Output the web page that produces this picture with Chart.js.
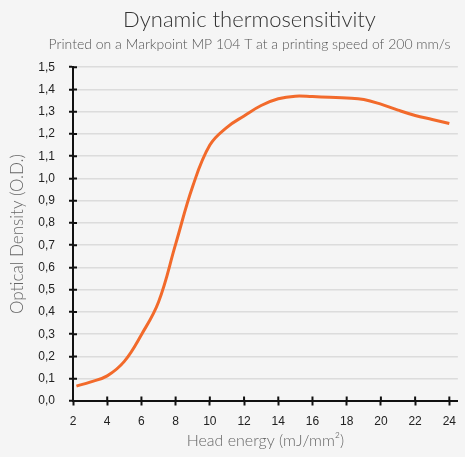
<!DOCTYPE html>
<html>
<head>
<meta charset="utf-8">
<script src="https://cdn.jsdelivr.net/npm/chart.js@4.4.1/dist/chart.umd.min.js"></script>
<style>
  html, body { margin: 0; padding: 0; background: #f5f5f5; }
  #wrap { width: 465px; height: 457px; }
</style>
</head>
<body>
<div id="wrap"><canvas id="thermo"></canvas></div>
<script>
// head energy (mJ/mm2) and optical density
const energy = [2.2, 3, 4, 5, 6, 7, 8, 9, 10, 11, 12, 13, 14, 15, 16, 17, 18, 19, 20, 21, 22, 23, 24];
const density = [0.067, 0.085, 0.113, 0.178, 0.298, 0.445, 0.705, 0.965, 1.15, 1.23, 1.281, 1.328, 1.358, 1.37, 1.368, 1.365, 1.362, 1.355, 1.334, 1.307, 1.283, 1.265, 1.247];
const xTicks = [2, 4, 6, 8, 10, 12, 14, 16, 18, 20, 22, 24];
const yTicks = [0, 0.1, 0.2, 0.3, 0.4, 0.5, 0.6, 0.7, 0.8, 0.9, 1.0, 1.1, 1.2, 1.3, 1.4, 1.5];

const thinFont = "Lato, 'Open Sans', sans-serif";

// draws the inner half of the axis ticks so they cross the axis line
const crossTicks = {
  id: 'crossTicks',
  afterDraw(chart) {
    const ctx = chart.ctx;
    const x = chart.scales.x, y = chart.scales.y;
    ctx.save();
    ctx.strokeStyle = '#111';
    ctx.lineWidth = 2;
    ctx.beginPath();
    y.ticks.forEach(t => {
      const py = y.getPixelForValue(t.value);
      ctx.moveTo(x.left, py);
      ctx.lineTo(x.left + 4, py);
    });
    x.ticks.forEach(t => {
      const px = x.getPixelForValue(t.value);
      ctx.moveTo(px, y.bottom);
      ctx.lineTo(px, y.bottom - 4.5);
    });
    ctx.stroke();
    ctx.restore();
  }
};

// title + subtitle sit a bit right of the canvas centre in the original
const shiftTitles = {
  id: 'shiftTitles',
  afterLayout(chart) {
    chart.boxes.forEach(b => {
      if (b.position === 'top' && b.options && b.options.text !== undefined) {
        b.left += 30;
      }
    });
  }
};

new Chart(document.getElementById('thermo'), {
  type: 'line',
  data: {
    datasets: [{
      data: energy.map((e, i) => ({ x: e, y: density[i] })),
      borderColor: '#f26a2b',
      borderWidth: 3,
      pointRadius: 0,
      tension: 0.4,
      fill: false
    }]
  },
  options: {
    responsive: true,
    maintainAspectRatio: false,
    animation: false,
    layout: { padding: { left: 4, right: 0, top: 0, bottom: 8 } },
    plugins: {
      legend: { display: false },
      tooltip: { enabled: false },
      title: {
        display: true,
        text: 'Dynamic thermosensitivity',
        color: '#333',
        font: { family: thinFont, size: 22, weight: '300' },
        padding: { top: 7, bottom: 3 }
      },
      subtitle: {
        display: true,
        text: 'Printed on a Markpoint MP 104 T at a printing speed of 200 mm/s',
        color: '#555',
        font: { family: thinFont, size: 14, weight: '300' },
        padding: { bottom: 14 }
      }
    },
    scales: {
      x: {
        type: 'linear',
        min: 2,
        max: 24.5,
        afterBuildTicks: s => { s.ticks = xTicks.map(v => ({ value: v })); },
        afterFit: s => { s.height = 48; },
        border: { color: '#111', width: 2 },
        grid: { drawOnChartArea: false, tickLength: 4.5, tickColor: '#111', tickWidth: 2 },
        ticks: {
          color: '#222',
          font: { family: "'Liberation Sans', Arial, sans-serif", size: 12 },
          padding: 9,
          maxRotation: 0
        },
        title: {
          display: true,
          text: 'Head energy (mJ/mm²)',
          color: '#666',
          font: { family: thinFont, size: 16, weight: '300', lineHeight: 1 },
          padding: { top: 0, bottom: 0 }
        }
      },
      y: {
        min: 0,
        max: 1.5,
        afterBuildTicks: s => { s.ticks = yTicks.map(v => ({ value: v })); },
        afterFit: s => { s.width = 69; },
        border: { color: '#111', width: 2 },
        grid: { color: '#dcdcdc', lineWidth: 1.5, tickLength: 4, tickColor: '#111', tickWidth: 2 },
        ticks: {
          color: '#222',
          font: { family: "'Liberation Sans', Arial, sans-serif", size: 12 },
          padding: 14,
          callback: v => v.toFixed(1).replace('.', ',')
        },
        title: {
          display: true,
          text: 'Optical Density (O.D.)',
          color: '#666',
          font: { family: thinFont, size: 17, weight: '300' },
          padding: { top: 3, bottom: 0 }
        }
      }
    }
  },
  plugins: [crossTicks, shiftTitles]
});
</script>
</body>
</html>
